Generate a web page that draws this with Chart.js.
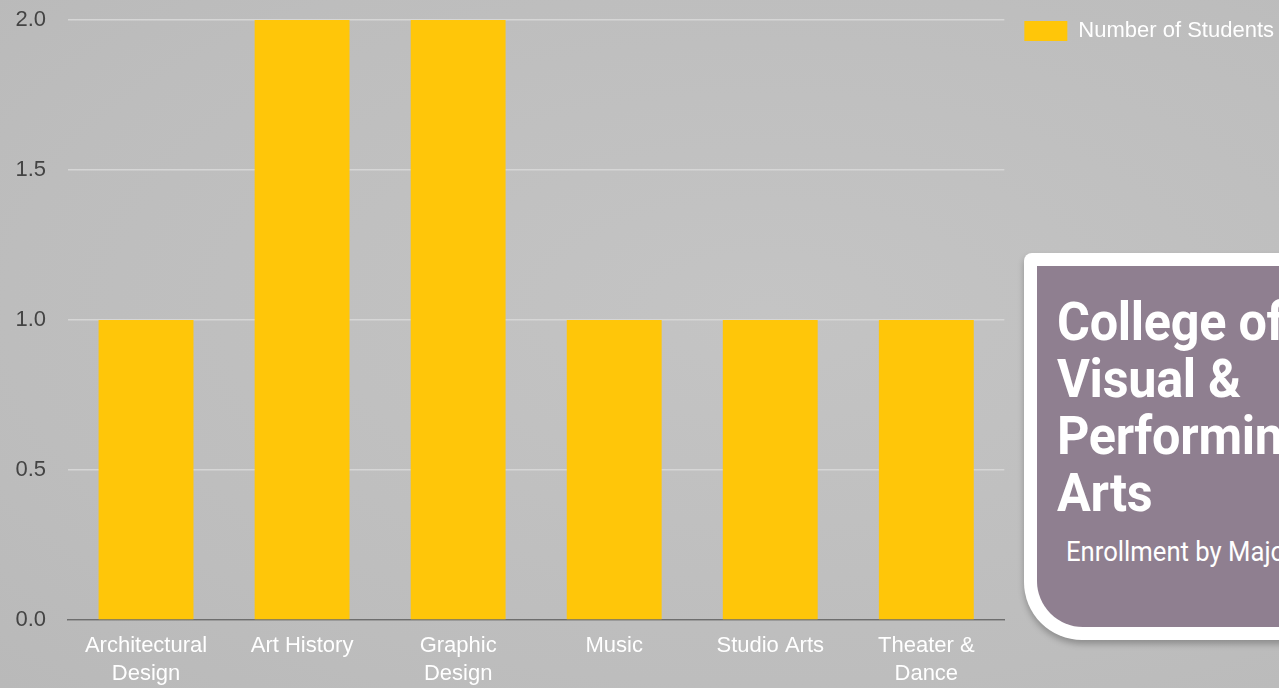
<!DOCTYPE html>
<html>
<head>
    <title>College of Visual &amp; Performing Arts</title>
    <script src="https://cdn.jsdelivr.net/npm/chart.js"></script>
    <style>
        html, body {
            margin: 0;
            padding: 0;
            width: 1279px;
            height: 688px;
            overflow: hidden;
            background: radial-gradient(ellipse at 60% 45%, #c4c4c4 0%, #bdbdbd 70%, #b9b9b9 100%);
        }
        .chart-wrap {
            position: absolute;
            left: 0;
            top: 0;
            width: 1284px;
            height: 688px;
        }
        .card {
            position: absolute;
            left: 1024px;
            top: 253px;
            width: 300px;
            height: 387px;
            background: #fff;
            border-radius: 8px 0 0 58px;
            box-shadow: 0 4px 6px rgba(0,0,0,0.25);
        }
        .card-inner {
            position: absolute;
            left: 13px;
            top: 13px;
            right: 0;
            bottom: 13px;
            background: #8f7f90;
            border-radius: 0 0 0 46px;
            overflow: hidden;
        }
        .card-title {
            position: absolute;
            left: 20px;
            top: 28px;
            font-family: Roboto, sans-serif;
            font-weight: 700;
            font-size: 53px;
            line-height: 57px;
            color: #fff;
            white-space: nowrap;
            transform: scaleX(0.95);
            transform-origin: left top;
            letter-spacing: -0.3px;
        }
        .card-sub {
            position: absolute;
            left: 29px;
            top: 270px;
            font-family: Roboto, sans-serif;
            font-size: 27px;
            color: #fff;
            white-space: nowrap;
            transform: scaleX(0.95);
            transform-origin: left top;
        }
    </style>
</head>
<body>
    <div class="chart-wrap">
        <canvas id="majorChart"></canvas>
    </div>

    <div class="card">
        <div class="card-inner">
            <div class="card-title">College of<br>Visual &amp;<br>Performing<br>Arts</div>
            <div class="card-sub">Enrollment by Major</div>
        </div>
    </div>

    <script>
        const majors = [
            ['Architectural', 'Design'],
            'Art History',
            ['Graphic', 'Design'],
            'Music',
            'Studio Arts',
            ['Theater &', 'Dance']
        ];
        const students = [1, 2, 2, 1, 1, 1];
        const seriesName = 'Number of Students';

        const ctx = document.getElementById('majorChart').getContext('2d');
        const chart = new Chart(ctx, {
            type: 'bar',
            data: {
                labels: majors,
                datasets: [{
                    label: seriesName,
                    data: students,
                    backgroundColor: '#ffc609',
                    borderWidth: 0,
                    barPercentage: 0.76,
                    categoryPercentage: 0.8
                }]
            },
            options: {
                responsive: true,
                maintainAspectRatio: false,
                animation: false,
                layout: {
                    padding: { top: 0, left: 0, right: 0, bottom: 0 }
                },
                plugins: {
                    tooltip: { enabled: false },
                    legend: {
                        position: 'right',
                        align: 'start',
                        labels: {
                            boxWidth: 43,
                            boxHeight: 20,
                            color: '#ffffff',
                            padding: 20,
                            font: { family: 'Liberation Sans, Arial, sans-serif', size: 22 }
                        }
                    }
                },
                scales: {
                    x: {
                        grid: { display: false },
                        border: { color: '#6e6e6e', width: 1.5 },
                        afterFit: s => { s.height = 68; s.paddingTop = 0; s.paddingBottom = 0; },
                        ticks: {
                            color: '#ffffff',
                            maxRotation: 0,
                            autoSkip: false,
                            padding: 4,
                            font: { family: 'Liberation Sans, Arial, sans-serif', size: 22, lineHeight: 1.27 }
                        }
                    },
                    y: {
                        min: 0,
                        max: 2,
                        grid: { color: '#d6d6d6', lineWidth: 1.5, drawTicks: false },
                        border: { display: false },
                        afterFit: s => { s.width = 68; s.paddingTop = 20; s.paddingBottom = 0; },
                        ticks: {
                            stepSize: 0.5,
                            color: '#444444',
                            padding: 22,
                            callback: v => v.toFixed(1),
                            font: { family: 'Liberation Sans, Arial, sans-serif', size: 22 }
                        }
                    }
                }
            }
        });
    </script>
</body>
</html>
